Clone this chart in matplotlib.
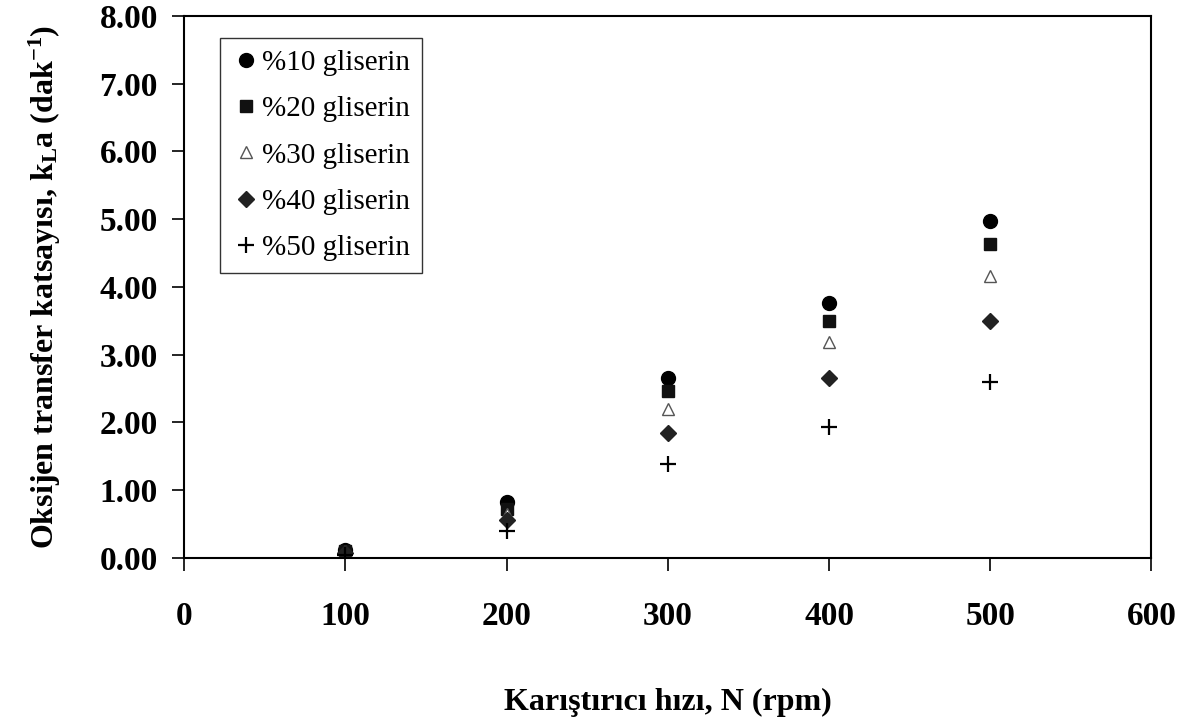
import numpy as np
import matplotlib
matplotlib.use("Agg")
import matplotlib.pyplot as plt

plt.rcParams['font.family'] = ['Liberation Serif', 'DejaVu Serif']
plt.rcParams['mathtext.fontset'] = 'custom'
plt.rcParams['mathtext.rm'] = 'Liberation Serif:bold'
plt.rcParams['mathtext.it'] = 'Liberation Serif:bold'
plt.rcParams['mathtext.bf'] = 'Liberation Serif:bold'
plt.rcParams['mathtext.default'] = 'rm'

# karistirici hizi (rpm)
hiz = [100, 200, 300, 400, 500]

# kLa values
g10 = [0.12, 0.82, 2.66, 3.77, 4.97]
g20 = [0.11, 0.72, 2.46, 3.49, 4.63]
g30 = [0.10, 0.65, 2.20, 3.18, 4.16]
g40 = [0.08, 0.56, 1.85, 2.66, 3.49]
g50 = [0.04, 0.40, 1.38, 1.94, 2.59]

labels = ['%10 gliserin', '%20 gliserin', '%30 gliserin', '%40 gliserin', '%50 gliserin']

fig = plt.figure(figsize=(11.81, 7.2), dpi=100)
ax = fig.add_axes([0.156, 0.225, 0.819, 0.753])

ax.plot(hiz, g10, 'o', color='black', markersize=10, linestyle='none', label=labels[0])
ax.plot(hiz, g20, 's', color='#111111', markersize=9, linestyle='none', label=labels[1])
ax.plot(hiz, g30, '^', markerfacecolor='white', markeredgecolor='#555555',
        markeredgewidth=1.0, markersize=9, linestyle='none', label=labels[2])
ax.plot(hiz, g40, 'D', color='#222222', markersize=8, linestyle='none', label=labels[3])
ax.plot(hiz, g50, '+', color='black', markersize=12, markeredgewidth=1.6,
        linestyle='none', label=labels[4])

ax.set_xlim(0, 600)
ax.set_ylim(0, 8)
ax.set_xticks(np.arange(0, 601, 100))
ax.set_yticks(np.arange(0, 8.01, 1))
ax.set_yticklabels([f'{v:.2f}' for v in np.arange(0, 8.01, 1)])

for lab in ax.get_xticklabels() + ax.get_yticklabels():
    lab.set_fontweight('bold')
    lab.set_fontsize(24)

ax.tick_params(direction='out', length=9, width=1.2)
ax.tick_params(axis='x', pad=22)
ax.tick_params(axis='y', pad=10)
for s in ax.spines.values():
    s.set_linewidth(1.5)

ax.set_xlabel('Karıştırıcı hızı, N (rpm)', fontsize=23, fontweight='bold', labelpad=40)
ax.set_ylabel(r'Oksijen transfer katsayısı, k$_L$a (dak$^{-1}$)', fontsize=23,
              fontweight='bold', labelpad=26)

leg = ax.legend(loc='upper left', bbox_to_anchor=(0.037, 0.959), fontsize=21,
                frameon=True, fancybox=False, edgecolor='black', handletextpad=0.05,
                handlelength=1.0, labelspacing=0.68, borderpad=0.4, borderaxespad=0)
leg.get_frame().set_linewidth(1.0)

fig.savefig('out.png', dpi=100, facecolor='white')
